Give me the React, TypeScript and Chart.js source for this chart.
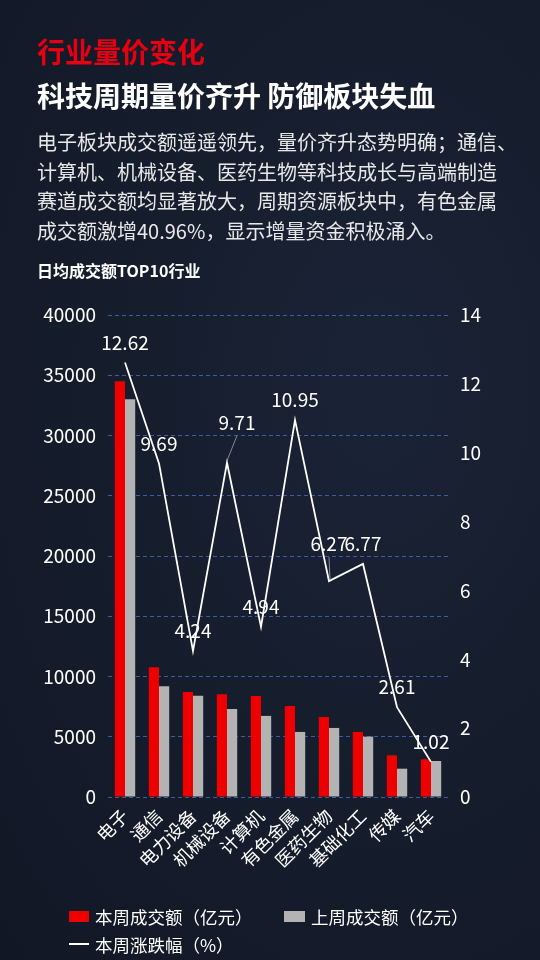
import React, { useEffect, useRef } from "react";
import { Chart, registerables } from "chart.js";

Chart.register(...registerables);

const categories = ["电子", "通信", "电力设备", "机械设备", "计算机", "有色金属", "医药生物", "基础化工", "传媒", "汽车"];
const thisWeek = [34500, 10770, 8720, 8530, 8390, 7560, 6640, 5400, 3460, 3130];
const lastWeek = [33000, 9190, 8410, 7310, 6730, 5400, 5730, 5010, 2350, 2990];
const weeklyChange = [12.62, 9.69, 4.24, 9.71, 4.94, 10.95, 6.27, 6.77, 2.61, 1.02];

const leftTicks = { min: 0, max: 40000, step: 5000 };
const rightTicks = { min: 0, max: 14, step: 2 };

const FONT = '"Noto Sans CJK SC", "Noto Sans", sans-serif';

// label placement relative to the line point (style, not data)
const labelShift: Record<number, { dx: number; dy: number; leader?: boolean }> = {
  3: { dx: 10, dy: -40, leader: true },
  6: { dx: 0, dy: -37, leader: true },
};

const valueLabelPlugin = {
  id: "valueLabels",
  afterDatasetsDraw(chart: any) {
    const meta = chart.getDatasetMeta(2);
    const ctx = chart.ctx;
    ctx.save();
    ctx.font = `19px ${FONT}`;
    ctx.fillStyle = "#ffffff";
    ctx.textAlign = "center";
    ctx.textBaseline = "middle";
    meta.data.forEach((pt: any, i: number) => {
      const s = labelShift[i] || { dx: 0, dy: -20 };
      const lx = pt.x + s.dx;
      const ly = pt.y + s.dy;
      if (s.leader) {
        ctx.save();
        ctx.strokeStyle = "rgba(255,255,255,0.6)";
        ctx.lineWidth = 0.8;
        ctx.beginPath();
        ctx.moveTo(lx, ly + 13);
        ctx.lineTo(pt.x + (s.dx ? 0 : 1), pt.y - 2);
        ctx.stroke();
        ctx.restore();
      }
      ctx.fillText(String(weeklyChange[i]), lx, ly);
    });
    ctx.restore();
  },
};

function ChartBox() {
  const ref = useRef<HTMLCanvasElement | null>(null);
  useEffect(() => {
    if (!ref.current) return;
    const chart = new Chart(ref.current, {
      type: "bar",
      data: {
        labels: categories,
        datasets: [
          {
            type: "bar",
            label: "本周成交额（亿元）",
            data: thisWeek,
            backgroundColor: "#ee0000",
            yAxisID: "y",
            order: 1,
            categoryPercentage: 0.6,
            barPercentage: 1.0,
          },
          {
            type: "bar",
            label: "上周成交额（亿元）",
            data: lastWeek,
            backgroundColor: "#b3b3b3",
            yAxisID: "y",
            order: 1,
            categoryPercentage: 0.6,
            barPercentage: 1.0,
          },
          {
            type: "line",
            label: "本周涨跌幅（%）",
            data: weeklyChange,
            borderColor: "#ffffff",
            borderWidth: 1.8,
            pointRadius: 0,
            tension: 0,
            yAxisID: "y1",
            order: 0,
          },
        ],
      } as any,
      options: {
        animation: false,
        responsive: false,
        maintainAspectRatio: false,
        layout: { padding: { top: 25, left: 0, right: 0, bottom: 0 } },
        plugins: { legend: { display: false }, tooltip: { enabled: false } },
        scales: {
          x: {
            offset: true,
            grid: { display: false, drawTicks: false },
            border: { display: false },
            ticks: {
              color: "#ffffff",
              font: { size: 18, family: FONT },
              minRotation: 45,
              maxRotation: 45,
              padding: 8,
              autoSkip: false,
            },
            afterFit(scale: any) {
              scale.height = 103;
            },
          },
          y: {
            position: "left",
            min: leftTicks.min,
            max: leftTicks.max,
            grid: { color: "rgba(75,105,195,0.8)", lineWidth: 1, drawTicks: false },
            border: { display: false, dash: [4, 3] },
            ticks: {
              stepSize: leftTicks.step,
              color: "#ffffff",
              font: { size: 19, family: FONT },
              padding: 12,
              callback: (v: any) => String(v),
            },
            afterFit(scale: any) {
              scale.width = 108;
            },
          },
          y1: {
            position: "right",
            min: rightTicks.min,
            max: rightTicks.max,
            grid: { display: false, drawTicks: false },
            border: { display: false },
            ticks: {
              stepSize: rightTicks.step,
              color: "#ffffff",
              font: { size: 19, family: FONT },
              padding: 12,
              callback: (v: any) => String(v),
            },
            afterFit(scale: any) {
              scale.width = 92;
            },
          },
        },
      } as any,
      plugins: [valueLabelPlugin],
    });
    return () => chart.destroy();
  }, []);
  return (
    <canvas
      ref={ref}
      width={540}
      height={610}
      style={{ position: "absolute", left: 0, top: 290, width: 540, height: 610 }}
    />
  );
}

const paragraphLines = [
  "电子板块成交额遥遥领先，量价齐升态势明确；通信、",
  "计算机、机械设备、医药生物等科技成长与高端制造",
  "赛道成交额均显著放大，周期资源板块中，有色金属",
  "成交额激增40.96%，显示增量资金积极涌入。",
];

export default function App() {
  const abs = (top: number, extra: React.CSSProperties = {}): React.CSSProperties => ({
    position: "absolute",
    left: 37,
    top,
    whiteSpace: "nowrap",
    fontFamily: FONT,
    ...extra,
  });
  return (
    <div
      style={{
        position: "fixed",
        left: 0,
        top: 0,
        width: 540,
        height: 960,
        overflow: "hidden",
        background:
          "radial-gradient(ellipse at 70% 40%, #1a2336 0%, #151c2b 55%, #111725 100%)",
        fontFamily: FONT,
      }}
    >
      <div style={abs(36.5, { fontSize: 28, lineHeight: "28px", fontWeight: 700, color: "#e60012" })}>
        行业量价变化
      </div>
      <div style={abs(81, { fontSize: 28, lineHeight: "28px", fontWeight: 700, color: "#ffffff" })}>
        科技周期量价齐升 防御板块失血
      </div>
      <div style={abs(127, { fontSize: 20, lineHeight: "29.7px", color: "#e8e8e8" })}>
        {paragraphLines.map((l, i) => (
          <div key={i}>{l}</div>
        ))}
      </div>
      <div style={abs(262, { fontSize: 16, lineHeight: "16px", fontWeight: 700, color: "#ffffff" })}>
        日均成交额TOP10行业
      </div>
      <ChartBox />
      {/* legend */}
      <div style={{ position: "absolute", left: 69, top: 911, width: 20, height: 11, background: "#ee0000" }} />
      <div style={{ position: "absolute", left: 95, top: 906, fontSize: 17.5, lineHeight: "21px", color: "#ffffff", whiteSpace: "nowrap" }}>
        本周成交额（亿元）
      </div>
      <div style={{ position: "absolute", left: 284, top: 911, width: 21, height: 11, background: "#b3b3b3" }} />
      <div style={{ position: "absolute", left: 311, top: 906, fontSize: 17.5, lineHeight: "21px", color: "#ffffff", whiteSpace: "nowrap" }}>
        上周成交额（亿元）
      </div>
      <div style={{ position: "absolute", left: 69, top: 943, width: 20, height: 2, background: "#ffffff" }} />
      <div style={{ position: "absolute", left: 95, top: 933.5, fontSize: 17.5, lineHeight: "21px", color: "#ffffff", whiteSpace: "nowrap" }}>
        本周涨跌幅（%）
      </div>
    </div>
  );
}
